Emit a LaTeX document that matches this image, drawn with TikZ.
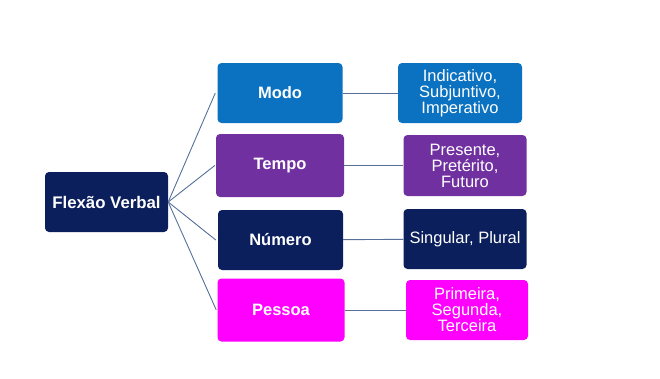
\documentclass[tikz,border=0pt]{standalone}
\usepackage{fontspec}
\setmainfont{Liberation Sans}
\usepackage{tikz}
\usetikzlibrary{positioning, calc}

\definecolor{navyblue}{HTML}{0B1F5C}
\definecolor{modoblue}{HTML}{0A72C0}
\definecolor{tempopurple}{HTML}{7030A0}
\definecolor{pessoapink}{HTML}{FF00FF}
\definecolor{linkgray}{HTML}{56709A}

\begin{document}
\begin{tikzpicture}[x=1pt, y=-1pt,
    box/.style={rounded corners=4pt, minimum height=60pt, align=center, text=white, inner sep=2pt},
    catbox/.style={box, minimum width=125pt, font=\fontsize{16.5}{16}\selectfont\bfseries},
    valbox/.style={box, minimum width=123pt, font=\fontsize{16.5}{16}\selectfont},
    link/.style={draw=linkgray, line width=0.9pt}
  ]
    \useasboundingbox (0,0) rectangle (660,378);

    % Root
    \node[box, fill=navyblue, minimum width=123pt, font=\fontsize{16.8}{16}\selectfont\bfseries] (root) at (106.5, 202) {Flexão Verbal};

    % Categories
    \node[catbox, fill=modoblue] (modo) at (280, 93) {Modo};
    \node[catbox, fill=tempopurple, minimum height=63pt, minimum width=128pt] (tempo) at (280, 165.5) {Tempo};
    \node[catbox, fill=navyblue] (numero) at (280.5, 240) {Número};
    \node[catbox, fill=pessoapink, minimum height=63pt, minimum width=127pt] (pessoa) at (281, 310) {Pessoa};

    % Values
    \node[valbox, fill=modoblue, minimum width=124pt] (modoval) at (460, 93) {Indicativo,\\Subjuntivo,\\Imperativo};
    \node[valbox, fill=tempopurple, minimum height=61pt] (tempoval) at (465, 165.5) {Presente,\\Pretérito,\\Futuro};
    \node[valbox, fill=navyblue] (numeroval) at (465, 239) {Singular, Plural};
    \node[valbox, fill=pessoapink, minimum width=122pt] (pessoaval) at (467, 310) {Primeira,\\Segunda,\\Terceira};

    % Links from root
    \draw[link] (root.east) -- ($(modo.west)+(-2,0)$);
    \draw[link] (root.east) -- ($(tempo.west)+(-1,0)$);
    \draw[link] (root.east) -- ($(numero.west)+(-2,0)$);
    \draw[link] (root.east) -- ($(pessoa.west)+(-1,0)$);

    % Links to values
    \draw[link] (modo) -- (modoval);
    \draw[link] (tempo) -- (tempoval);
    \draw[link] (numero) -- (numeroval);
    \draw[link] (pessoa) -- (pessoaval);

\end{tikzpicture}
\end{document}
